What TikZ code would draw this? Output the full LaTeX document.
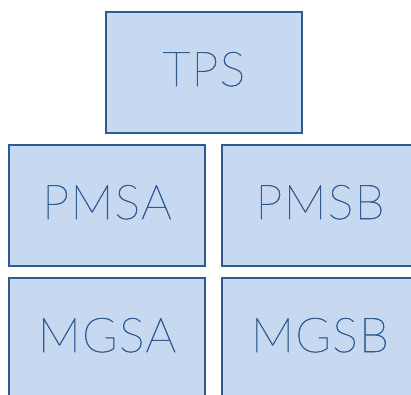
\documentclass[tikz,border=0pt]{standalone}
\usepackage{fontspec}
\newfontfamily\boxfont[FakeBold=1.2,LetterSpace=3]{Lato Thin}
\usepackage{tikz}
\usetikzlibrary{positioning}

\definecolor{boxfill}{HTML}{C6D9F0}
\definecolor{boxline}{HTML}{2F5A8F}
\definecolor{boxtext}{HTML}{2F5A92}

\tikzset{
	unitbox/.style={draw=boxline, line width=1.6pt, fill=boxfill, minimum width=196pt, minimum height=121pt, inner sep=0pt, text height=34pt, text depth=7pt, text=boxtext, font=\boxfont\fontsize{48}{48}\selectfont}
}

\begin{document}
\begin{tikzpicture}[x=1pt,y=-1pt]
		\useasboundingbox (0,0) rectangle (411,394);
		\clip (0,0) rectangle (411,394);
		\node[unitbox] (tps) at (204,72.5) {TPS};
		\node[unitbox] (pmsa) at (107,205.5) {PMSA};
		\node[unitbox] (pmsb) at (320,205.5) {PMSB};
		\node[unitbox] (mgsa) at (107,338.5) {MGSA};
		\node[unitbox] (mgsb) at (320,338.5) {MGSB};
	\end{tikzpicture}
\end{document}
